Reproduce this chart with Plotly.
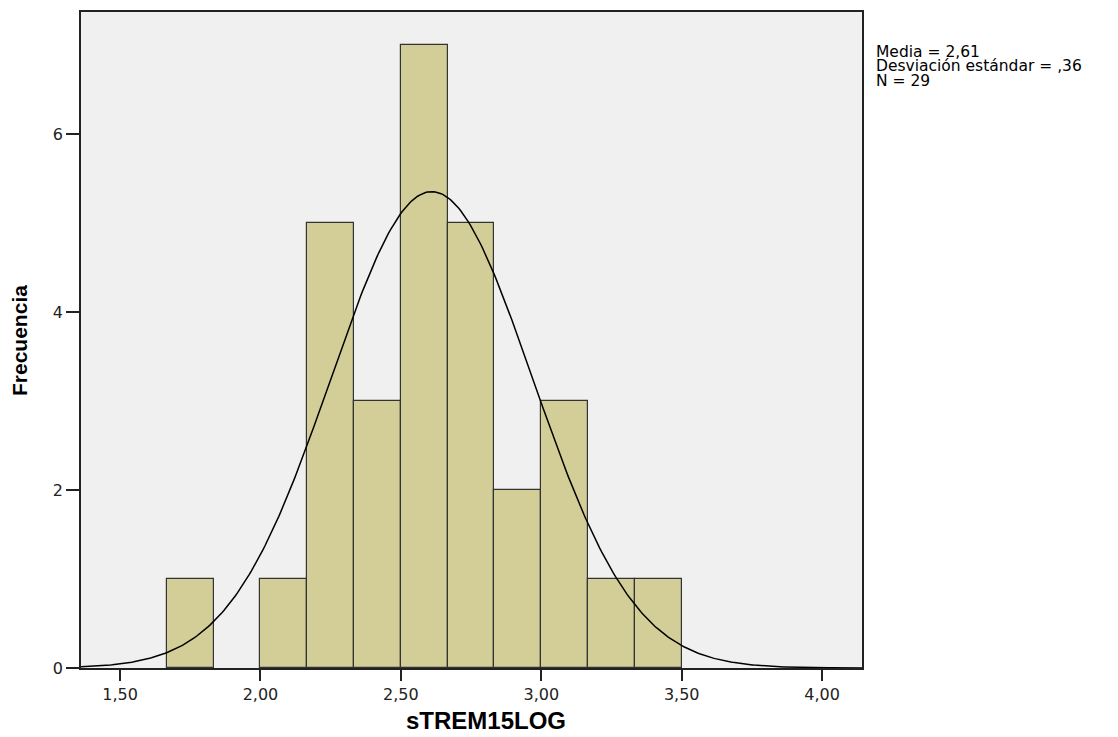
import numpy as np
import plotly.graph_objects as go

# Data
bin_left = [1.6667, 2.0, 2.1667, 2.3333, 2.5, 2.6667, 2.8333, 3.0, 3.1667, 3.3333]
counts = [1, 1, 5, 3, 7, 5, 2, 3, 1, 1]
bin_width = 1 / 6
mean_val = 2.61
sd_val = 0.36
n_val = 29
x_ticks = [1.5, 2.0, 2.5, 3.0, 3.5, 4.0]
y_ticks = [0, 2, 4, 6]
x_range = [1.361, 4.142]
y_range = [0, 7.376]
stats_lines = ["Media = 2,61", "Desviación estándar = ,36", "N = 29"]
x_title = "sTREM15LOG"
y_title = "Frecuencia"

centers = [b + bin_width / 2 for b in bin_left]

# fitted normal curve from the reported statistics
xc = np.linspace(x_range[0], x_range[1], 400)
yc = n_val * bin_width * np.exp(-0.5 * ((xc - mean_val) / sd_val) ** 2) / (sd_val * np.sqrt(2 * np.pi))

fig = go.Figure()
fig.add_trace(go.Bar(
    x=centers, y=counts, width=bin_width,
    marker=dict(color="#D3CE98", line=dict(color="#333333", width=1.2)),
    hoverinfo="x+y", showlegend=False,
))
fig.add_trace(go.Scatter(
    x=xc, y=yc, mode="lines",
    line=dict(color="black", width=1.5), showlegend=False, hoverinfo="skip",
))

L, R, T, B = 81, 256, 10, 69
W, H = 1118, 737
pw = W - L - R
ph = H - T - B


def ypap(px):
    return (H - B - px) / ph


def xpap(px):
    return (px - L) / pw


for i, txt in enumerate(stats_lines):
    fig.add_annotation(
        xref="paper", yref="paper", x=xpap(874), y=ypap(50 + 14.5 * i),
        xanchor="left", yanchor="middle", text=txt, showarrow=False,
        font=dict(family="DejaVu Sans", size=15.5, color="black"),
    )

# axis titles
fig.add_annotation(
    xref="paper", yref="paper", x=xpap(486), y=ypap(721),
    xanchor="center", yanchor="middle", text="<b>" + x_title + "</b>", showarrow=False,
    font=dict(family="Liberation Sans, Arial", size=24, color="black"),
)
fig.add_annotation(
    xref="paper", yref="paper", x=xpap(20), y=ypap(340),
    xanchor="center", yanchor="middle", text="<b>" + y_title + "</b>", showarrow=False,
    textangle=-90,
    font=dict(family="Liberation Sans, Arial", size=21, color="black"),
)

tick_font = dict(family="DejaVu Sans", size=16, color="#222")

fig.update_layout(
    width=W, height=H,
    margin=dict(l=L, r=R, t=T, b=B, pad=0),
    paper_bgcolor="white", plot_bgcolor="#F0F0F0",
    separators=",.",
    bargap=0,
    font=dict(family="Liberation Sans, Arial", size=14, color="#222"),
    xaxis=dict(
        range=x_range, tickvals=x_ticks, tickformat=".2f",
        ticks="outside", ticklen=11, tickwidth=1.5, tickcolor="#222",
        showline=True, linecolor="#222", linewidth=1.5, mirror=True,
        showgrid=False, zeroline=False,
        tickfont=tick_font,
    ),
    yaxis=dict(
        range=y_range, tickvals=y_ticks,
        ticks="outside", ticklen=13, tickwidth=1.5, tickcolor="#222",
        showline=True, linecolor="#222", linewidth=1.5, mirror=True,
        showgrid=False, zeroline=False,
        tickfont=tick_font,
    ),
)

fig.write_html("out.html")
